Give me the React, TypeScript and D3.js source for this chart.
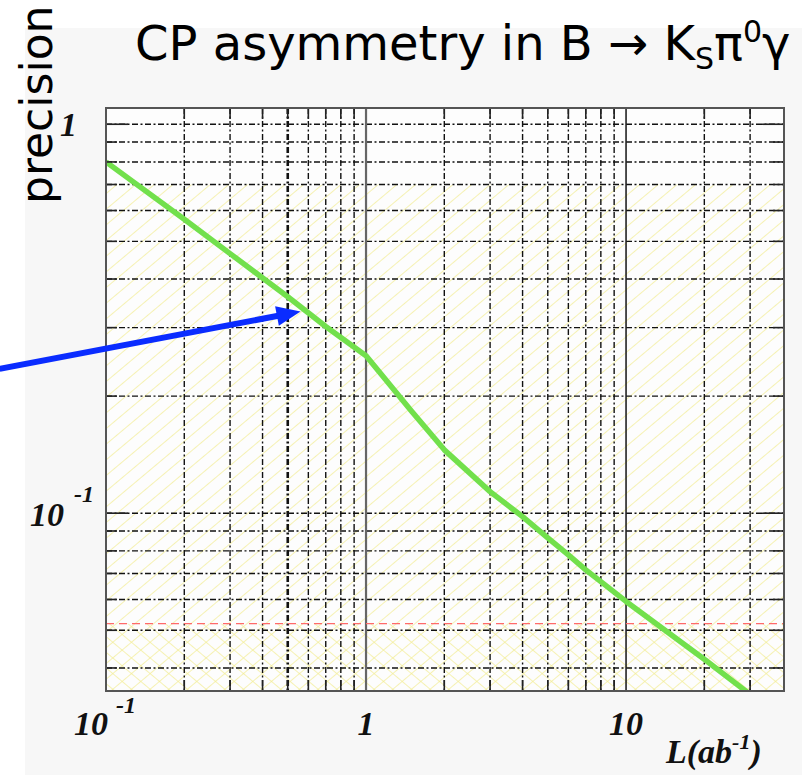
import React, { useRef, useEffect } from "react";
import * as d3 from "d3";

// luminosity (ab^-1) and expected precision
const LUMI = [0.1, 0.2, 0.3, 0.5, 0.7, 1, 1.5, 2, 3, 4, 5, 6, 7, 8, 10, 20, 30];
const PRECISION = [
    0.8, 0.57, 0.465, 0.36, 0.302, 0.254, 0.1825, 0.1455, 0.1136, 0.098, 0.0864,
    0.0781, 0.0715, 0.0667, 0.0593, 0.0421, 0.0342,
];

const X_DOMAIN = [0.1, 40.5];
const Y_DOMAIN = [0.0349, 1.101];
const X_GRID = [0.2, 0.3, 0.4, 0.5, 0.6, 0.7, 0.8, 0.9, 2, 3, 4, 5, 6, 7, 8, 9, 20, 30];
const X_MAJOR = [1, 10];
const Y_GRID = [0.04, 0.05, 0.06, 0.07, 0.08, 0.09, 0.1, 0.2, 0.3, 0.4, 0.5, 0.6, 0.7, 0.8, 0.9, 1];
const Y_MAJOR = [0.1, 1];
const X_TICKS = [
    { v: 0.1, base: "10", exp: "-1" },
    { v: 1, base: "1", exp: "" },
    { v: 10, base: "10", exp: "" },
];
const HATCH_TOP = 0.7; // single hatching below this
const TARGET = 0.052; // red dashed line, cross hatching below
const ARROW_TAIL = [0.039, 0.235];
const ARROW_TIP = [0.56, 0.33];

const W = 802;
const H = 775;
const margin = { left: 106, right: 18, top: 108, bottom: 84 };

const App: React.FC = () => {
    const svgRef = useRef<SVGSVGElement | null>(null);

    useEffect(() => {
        const svg = d3.select(svgRef.current);
        svg.selectAll("*").remove();
        svg.attr("width", W).attr("height", H);

        const x = d3.scaleLog().domain(X_DOMAIN).range([margin.left, W - margin.right]);
        const y = d3.scaleLog().domain(Y_DOMAIN).range([H - margin.bottom, margin.top]);
        const [x0, x1] = x.range();
        const [y1, y0] = y.range();

        const defs = svg.append("defs");
        defs.append("clipPath").attr("id", "plot-clip")
            .append("rect").attr("x", x0).attr("y", y0).attr("width", x1 - x0).attr("height", y1 - y0);

        const hatch = defs.append("pattern").attr("id", "hatch")
            .attr("patternUnits", "userSpaceOnUse").attr("width", 12).attr("height", 12)
            .attr("patternTransform", "rotate(50)");
        hatch.append("line").attr("x1", 0).attr("y1", 0).attr("x2", 0).attr("y2", 12)
            .attr("stroke", "#f2ec94").attr("stroke-width", 1.4);

        const hatch2 = defs.append("pattern").attr("id", "hatch2")
            .attr("patternUnits", "userSpaceOnUse").attr("width", 12).attr("height", 12)
            .attr("patternTransform", "rotate(-50)");
        hatch2.append("line").attr("x1", 0).attr("y1", 0).attr("x2", 0).attr("y2", 12)
            .attr("stroke", "#f2ec94").attr("stroke-width", 1.4);

        // page backgrounds
        svg.append("rect").attr("width", W).attr("height", H).attr("fill", "#ffffff");
        svg.append("rect").attr("x", 25).attr("y", 28).attr("width", W - 25).attr("height", H - 28)
            .attr("fill", "#f7f7f7");
        svg.append("rect").attr("x", x0).attr("y", y0).attr("width", x1 - x0).attr("height", y1 - y0)
            .attr("fill", "#fdfdfd");

        // hatched bands
        svg.append("rect").attr("x", x0).attr("y", y(HATCH_TOP))
            .attr("width", x1 - x0).attr("height", y1 - y(HATCH_TOP)).attr("fill", "url(#hatch)");
        svg.append("rect").attr("x", x0).attr("y", y(TARGET))
            .attr("width", x1 - x0).attr("height", y1 - y(TARGET)).attr("fill", "url(#hatch2)");

        const grid = svg.append("g").attr("clip-path", "url(#plot-clip)");

        grid.selectAll("line.hgrid").data(Y_GRID).join("line")
            .attr("x1", x0).attr("x2", x1).attr("y1", (d) => y(d)).attr("y2", (d) => y(d))
            .attr("stroke", "#111").attr("stroke-width", 1.4).attr("stroke-dasharray", "6 2.5 2 2.5");

        grid.selectAll("line.vgrid").data(X_GRID).join("line")
            .attr("x1", (d) => x(d)).attr("x2", (d) => x(d)).attr("y1", y0).attr("y2", y1)
            .attr("stroke", "#111").attr("stroke-width", (d) => (d === 0.5 ? 2.6 : 1.4))
            .attr("stroke-dasharray", "6 2.5 2 2.5");

        grid.selectAll("line.vmajor").data(X_MAJOR).join("line")
            .attr("x1", (d) => x(d)).attr("x2", (d) => x(d)).attr("y1", y0).attr("y2", y1)
            .attr("stroke", (d) => (d === 1 ? "#666" : "#222")).attr("stroke-width", (d) => (d === 1 ? 2.2 : 1.6));

        // ticks on the frame
        const ticks = svg.append("g").attr("stroke", "#222").attr("stroke-width", 1.6);
        Y_GRID.forEach((d) => {
            const len = Y_MAJOR.includes(d) ? 22 : 11;
            ticks.append("line").attr("x1", x0).attr("x2", x0 + len).attr("y1", y(d)).attr("y2", y(d));
            ticks.append("line").attr("x1", x1 - len).attr("x2", x1).attr("y1", y(d)).attr("y2", y(d));
        });
        X_GRID.forEach((d) => {
            ticks.append("line").attr("x1", x(d)).attr("x2", x(d)).attr("y1", y1).attr("y2", y1 - 11);
            ticks.append("line").attr("x1", x(d)).attr("x2", x(d)).attr("y1", y0).attr("y2", y0 + 11);
        });

        // red target line
        grid.append("line").attr("x1", x0).attr("x2", x1).attr("y1", y(TARGET)).attr("y2", y(TARGET))
            .attr("stroke", "#ff6a6a").attr("stroke-width", 1.4).attr("stroke-dasharray", "8 5");

        // curve
        const pts: [number, number][] = LUMI.map((l, i) => [l, PRECISION[i]]);
        const line = d3.line<[number, number]>().x((d) => x(d[0])).y((d) => y(d[1]));
        grid.append("path").datum(pts).attr("d", line)
            .attr("fill", "none").attr("stroke", "#72e04c").attr("stroke-width", 5.5)
            .attr("stroke-linejoin", "round");

        // frame
        svg.append("rect").attr("x", x0).attr("y", y0).attr("width", x1 - x0).attr("height", y1 - y0)
            .attr("fill", "none").attr("stroke", "#555").attr("stroke-width", 2);

        // tick labels
        const lab = svg.append("g").attr("font-family", "'Liberation Serif', serif")
            .attr("font-weight", "bold").attr("font-style", "italic").attr("fill", "#111");

        X_TICKS.forEach((t) => {
            const tx = lab.append("text").attr("y", y1 + 44).attr("font-size", 34);
            if (t.exp) {
                tx.attr("x", x(t.v) - 32).attr("text-anchor", "start").text(t.base);
                tx.append("tspan").attr("dx", 8).attr("dy", -22).attr("font-size", 24).text(t.exp);
            } else {
                tx.attr("x", x(t.v)).attr("text-anchor", "middle").text(t.base);
            }
        });

        lab.append("text").attr("x", 77).attr("y", y(1) + 12).attr("text-anchor", "end")
            .attr("font-size", 34).text("1");
        const ym = lab.append("text").attr("x", 30).attr("y", y(0.1) + 13).attr("font-size", 34).text("10");
        ym.append("tspan").attr("dx", 10).attr("dy", -24).attr("font-size", 24).text("-1");

        const xl = lab.append("text").attr("x", 666).attr("y", 763).attr("font-size", 34).text("L(ab");
        xl.append("tspan").attr("dy", -14).attr("font-size", 22).text("-1");
        xl.append("tspan").attr("dy", 14).text(")");

        // axis title
        svg.append("text").attr("transform", "translate(52,204) rotate(-90)")
            .attr("font-family", "'DejaVu Sans', sans-serif").attr("font-size", 44)
            .attr("fill", "#000").text("precision");

        // chart title
        const title = svg.append("text").attr("x", 135).attr("y", 60)
            .attr("font-family", "'DejaVu Sans', sans-serif").attr("font-size", 48).attr("fill", "#000");
        title.append("tspan").text("CP asymmetry in B \u2192 K");
        title.append("tspan").attr("dy", 9).attr("font-size", 30).text("S");
        title.append("tspan").attr("dy", -9).text("\u03c0");
        title.append("tspan").attr("dy", -18).attr("font-size", 30).text("0");
        title.append("tspan").attr("dy", 18).text("\u03b3");

        // arrow
        const ax0 = x(ARROW_TAIL[0]);
        const ay0 = y(ARROW_TAIL[1]);
        const ax1 = x(ARROW_TIP[0]);
        const ay1 = y(ARROW_TIP[1]);
        const ang = Math.atan2(ay1 - ay0, ax1 - ax0);
        const headLen = 24;
        const headW = 10;
        const bx = ax1 - headLen * Math.cos(ang);
        const by = ay1 - headLen * Math.sin(ang);
        svg.append("line").attr("x1", ax0).attr("y1", ay0).attr("x2", bx + 4 * Math.cos(ang)).attr("y2", by + 4 * Math.sin(ang))
            .attr("stroke", "#0a2cff").attr("stroke-width", 6);
        svg.append("polygon")
            .attr("points", [
                [ax1, ay1],
                [bx + headW * Math.sin(ang), by - headW * Math.cos(ang)],
                [bx - headW * Math.sin(ang), by + headW * Math.cos(ang)],
            ].map((p) => p.join(",")).join(" "))
            .attr("fill", "#0a2cff");

        return () => {
            svg.selectAll("*").remove();
        };
    }, []);

    return <svg ref={svgRef} style={{ position: "absolute", left: 0, top: 0 }}></svg>;
};

export default App;
